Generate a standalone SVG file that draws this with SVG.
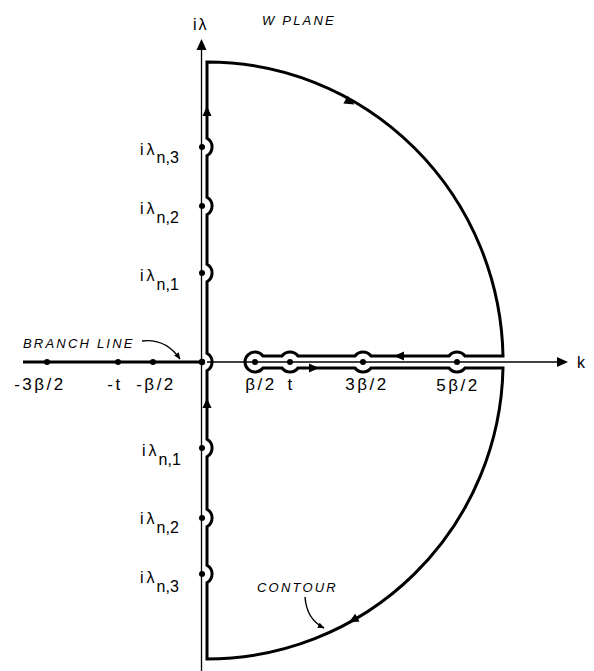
<svg xmlns="http://www.w3.org/2000/svg" width="594" height="671" viewBox="0 0 594 671">
<style>
text{font-family:"Liberation Sans","DejaVu Sans",sans-serif;fill:#000}
.lbl{font-size:17px;letter-spacing:2.5px}
.cap{font-size:13px;font-style:italic;letter-spacing:2.2px}
.pl{font-size:16px}
.axis{stroke:#000;stroke-width:1.3;fill:none}
.thick{stroke:#000;stroke-width:3;fill:none;stroke-linejoin:miter}
.ptr{stroke:#000;stroke-width:1.4;fill:none;marker-end:url(#ah)}
</style>
<defs>
<marker id="ah" viewBox="0 0 10 10" refX="9" refY="5" markerWidth="7" markerHeight="7" orient="auto" markerUnits="userSpaceOnUse">
<path d="M0,1 L10,5 L0,9 Z" fill="#000"/>
</marker>
<polygon id="tri" points="5,0 -5,-4.5 -5,4.5" fill="#000"/>
</defs>
<rect width="594" height="671" fill="#fff"/>
<g id="axes">
<line class="axis" x1="201.5" y1="46" x2="201.5" y2="671"/>
<polygon points="201.5,39 196.5,50 206.5,50" fill="#000"/>
<line class="axis" x1="207" y1="362" x2="560" y2="362"/>
<polygon points="568,362 557,357 557,367" fill="#000"/>
<line x1="23" y1="362" x2="202" y2="362" stroke="#000" stroke-width="3"/>
<text x="193" y="30" class="pl">i<tspan dx="2">λ</tspan></text>
<text x="577" y="368" class="pl">k</text>
</g>
<g id="contour">
<path class="thick" d="M207 659 L207 582.7 A10 10 0 0 0 207 565.3 L207 526.7 A10 10 0 0 0 207 509.3 L207 456.7 A10 10 0 0 0 207 439.3 L207 370.7 A10 10 0 0 0 207 353.3 L207 281.7 A10 10 0 0 0 207 264.3 L207 214.7 A10 10 0 0 0 207 197.3 L207 155.7 A10 10 0 0 0 207 138.3 L207 62 A296 300 0 0 1 503 356 L465 356 A10 10 0 0 0 449 356 L371 356 A10 10 0 0 0 355 356 L298 356 A10 10 0 0 0 282 356 L263 356 A10 10 0 1 0 263 368 L282 368 A10 10 0 0 0 298 368 L355 368 A10 10 0 0 0 371 368 L449 368 A10 10 0 0 0 465 368 L503 368 A296 297 0 0 1 207 659 Z"/>
<use href="#tri" transform="translate(207,111) rotate(-90)"/>
<use href="#tri" transform="translate(207,403) rotate(-90)"/>
<use href="#tri" transform="translate(350,102) rotate(29)"/>
<use href="#tri" transform="translate(353,620) rotate(150.6)"/>
<use href="#tri" transform="translate(399,356) rotate(180)"/>
<use href="#tri" transform="translate(314,368)"/>
</g>
<g id="poles" fill="#000">
<circle cx="47" cy="362" r="3"/>
<circle cx="118" cy="362" r="3"/>
<circle cx="153" cy="362" r="3"/>
<circle cx="202" cy="362" r="3.2"/>
<circle cx="255" cy="362" r="3"/>
<circle cx="290" cy="362" r="3"/>
<circle cx="363" cy="362" r="3"/>
<circle cx="457" cy="362" r="3"/>
<circle cx="202" cy="147" r="3"/>
<circle cx="202" cy="206" r="3"/>
<circle cx="202" cy="273" r="3"/>
<circle cx="202" cy="448" r="3"/>
<circle cx="202" cy="518" r="3"/>
<circle cx="202" cy="574" r="3"/>
</g>
<g id="real-labels" text-anchor="middle">
<text class="lbl" x="40" y="390">-3β/2</text>
<text class="lbl" x="115" y="390">-t</text>
<text class="lbl" x="156" y="390">-β/2</text>
<text class="lbl" x="261" y="390">β/2</text>
<text class="lbl" x="291" y="390">t</text>
<text class="lbl" x="367" y="390">3β/2</text>
<text class="lbl" x="458" y="391">5β/2</text>
</g>
<g id="imag-labels">
<text class="pl" x="140" y="155">i<tspan dx="3">λ</tspan><tspan dx="2" dy="8">n,3</tspan></text>
<text class="pl" x="140" y="214">i<tspan dx="3">λ</tspan><tspan dx="2" dy="9">n,2</tspan></text>
<text class="pl" x="140" y="281">i<tspan dx="3">λ</tspan><tspan dx="2" dy="9">n,1</tspan></text>
<text class="pl" x="142" y="456">i<tspan dx="3">λ</tspan><tspan dx="2" dy="9">n,1</tspan></text>
<text class="pl" x="140" y="524">i<tspan dx="3">λ</tspan><tspan dx="2" dy="9">n,2</tspan></text>
<text class="pl" x="140" y="583">i<tspan dx="3">λ</tspan><tspan dx="2" dy="9">n,3</tspan></text>
</g>
<g id="notes">
<text class="cap" x="262" y="25">W PLANE</text>
<text class="cap" x="23" y="348">BRANCH LINE</text>
<path class="ptr" d="M142 341 C158 339 171 346 180 359"/>
<text class="cap" x="257" y="592" letter-spacing="1.5">CONTOUR</text>
<path class="ptr" d="M305 597 C306 611 312 622 324 628"/>
</g>
</svg>
